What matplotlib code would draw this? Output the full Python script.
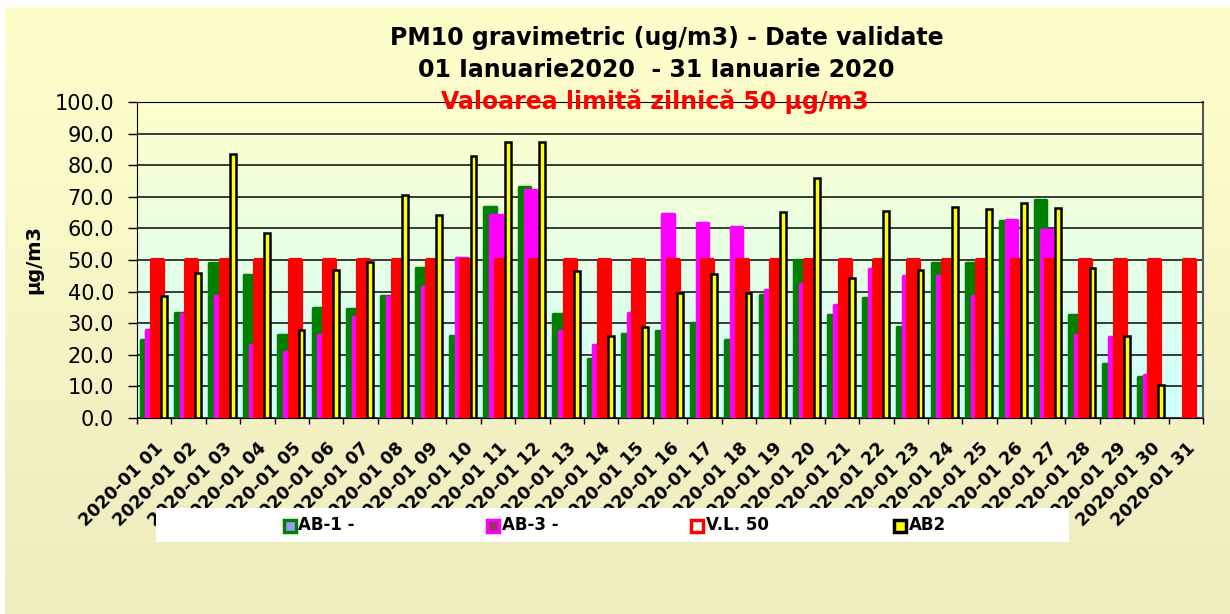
import numpy as np
import matplotlib.pyplot as plt
from matplotlib.patches import Rectangle
from matplotlib.lines import Line2D
from matplotlib.colors import LinearSegmentedColormap

nan = np.nan

# daily values, January 2020 (ug/m3)
days = ["2020-01 %02d" % d for d in range(1, 32)]
ab1 = [24.7, 33.2, 49.2, 45.2, 26.2, 34.7, 34.5, 38.7, 47.4, 25.8, 66.7, 73.0, 33.0, 18.7, 26.6, 27.4,
       30.2, 24.8, 39.0, 50.0, 32.6, 38.1, 28.9, 49.2, 49.0, 62.5, 69.0, 32.6, 17.0, 13.0, nan]
ab3 = [28.0, 32.8, 38.6, 23.0, 21.0, 26.3, 32.1, 38.3, 41.6, 50.5, 64.2, 72.2, 27.4, 23.1, 33.2, 64.6,
       61.6, 60.6, 40.5, 42.5, 35.8, 47.2, 45.0, 45.0, 38.5, 62.8, 59.5, 26.2, 25.5, 13.5, nan]
vl50 = [50.0] * 31
ab2 = [38.5, 46.0, 83.4, 58.7, 27.8, 46.7, 49.5, 70.6, 64.1, 83.0, 87.5, 87.5, 46.6, 25.8, 28.7, 39.4,
       45.6, 39.7, 65.2, 75.9, 44.3, 65.6, 46.8, 66.9, 66.2, 68.0, 66.4, 47.4, 25.8, 10.4, nan]

W, H = 1230, 614
fig = plt.figure(figsize=(W / 100, H / 100), dpi=100, facecolor="white")

# chart area background (gradient)
bg = fig.add_axes([5 / W, 0, 1 - 5 / W, 1 - 7 / H], zorder=-1)
bg_cmap = LinearSegmentedColormap.from_list("bg", ["#eeebbf", "#ffffcc"])
bg.imshow(np.linspace(0, 1, 256).reshape(-1, 1)[::-1], aspect="auto", cmap=bg_cmap, extent=[0, 1, 0, 1])
bg.axis("off")

ax = fig.add_axes([137 / W, 1 - 418 / H, (1203 - 137) / W, (418 - 102) / H])
pa_cmap = LinearSegmentedColormap.from_list("pa", ["#ccffff", "#ffffcc"])
ax.imshow(np.linspace(0, 1, 256).reshape(-1, 1)[::-1], aspect="auto", cmap=pa_cmap,
          extent=[0, 1, 0, 1], transform=ax.transAxes, zorder=0)

x = np.arange(len(days))
series = [
    (ab1, -0.23, 0.33, "#008000", "#008000", 2.5, 2),
    (ab3, -0.06, 0.33, "#ff00ff", "#ff00ff", 2.5, 3),
    (vl50, 0.095, 0.32, "#ff0000", "#ff0000", 3.0, 4),
    (ab2, 0.285, 0.17, "#ffff00", "black", 1.8, 5),
]
for vals, off, wd, fc, ec, lw, z in series:
    bars = ax.bar(x + off, vals, wd, color=fc, edgecolor=ec, linewidth=lw, zorder=z)
    for b in bars:
        b.set_joinstyle("round" if ec != "black" else "miter")

ax.set_xlim(-0.5, 30.5)
ax.set_ylim(0, 100)
ax.set_yticks(np.arange(0, 101, 10))
ax.set_yticklabels(["%.1f" % v for v in np.arange(0, 101, 10)], fontsize=15)
ax.tick_params(axis="y", length=6.5, width=1, pad=10, direction="out")
ax.yaxis.grid(True, color="#1a1a1a", linewidth=1.2)
ax.set_axisbelow(True)

ax.set_xticks(x)
ax.set_xticklabels(days, rotation=45, ha="right", va="top", rotation_mode="anchor",
                   fontsize=12.5, fontweight="bold")
ax.set_xticks(np.arange(-0.5, 31, 1), minor=True)
ax.tick_params(axis="x", which="major", length=0, pad=15)
ax.tick_params(axis="x", which="minor", length=4.5, width=1, direction="out")

for s in ["left", "bottom", "top"]:
    ax.spines[s].set_color("black")
ax.spines["right"].set_color("#555555")
ax.spines["right"].set_linewidth(1.5)

ax.set_ylabel("µg/m3", fontsize=14, fontweight="bold", labelpad=8)

# titles
fig.text(667 / W, 1 - 38 / H, "PM10 gravimetric (ug/m3) - Date validate", ha="center", va="center",
         fontsize=17, fontweight="bold")
fig.text(656 / W, 1 - 70 / H, "01 Ianuarie2020  - 31 Ianuarie 2020", ha="center", va="center",
         fontsize=17, fontweight="bold")
fig.text(655 / W, 1 - 101 / H, "Valoarea limită zilnică 50 µg/m3", ha="center", va="center",
         fontsize=17, fontweight="bold", color="#ff0000", zorder=6)

# legend box
fig.add_artist(Rectangle((156 / W, 1 - 542 / H), (1069 - 156) / W, 34 / H, transform=fig.transFigure,
                         facecolor="white", edgecolor="none", zorder=3))
leg_names = ["AB-1 -", "AB-3 -", "V.L. 50", "AB2"]
leg_face = ["#9999ff", "#993366", "white", "#ffff00"]
leg_edge = ["#008000", "#ff00ff", "#ff0000", "black"]
leg_x = [289.5, 493, 697, 900.5]
for name, fc, ec, lx in zip(leg_names, leg_face, leg_edge, leg_x):
    fig.add_artist(Line2D([lx / W], [1 - 525.5 / H], marker="s", markersize=8, markerfacecolor=fc,
                          markeredgecolor=ec, markeredgewidth=2.5, transform=fig.transFigure, zorder=4))
    fig.text((lx + 8.5) / W, 1 - 525.5 / H, name, ha="left", va="center", fontsize=12,
             fontweight="bold", zorder=4)

fig.savefig("out.png", dpi=100)
